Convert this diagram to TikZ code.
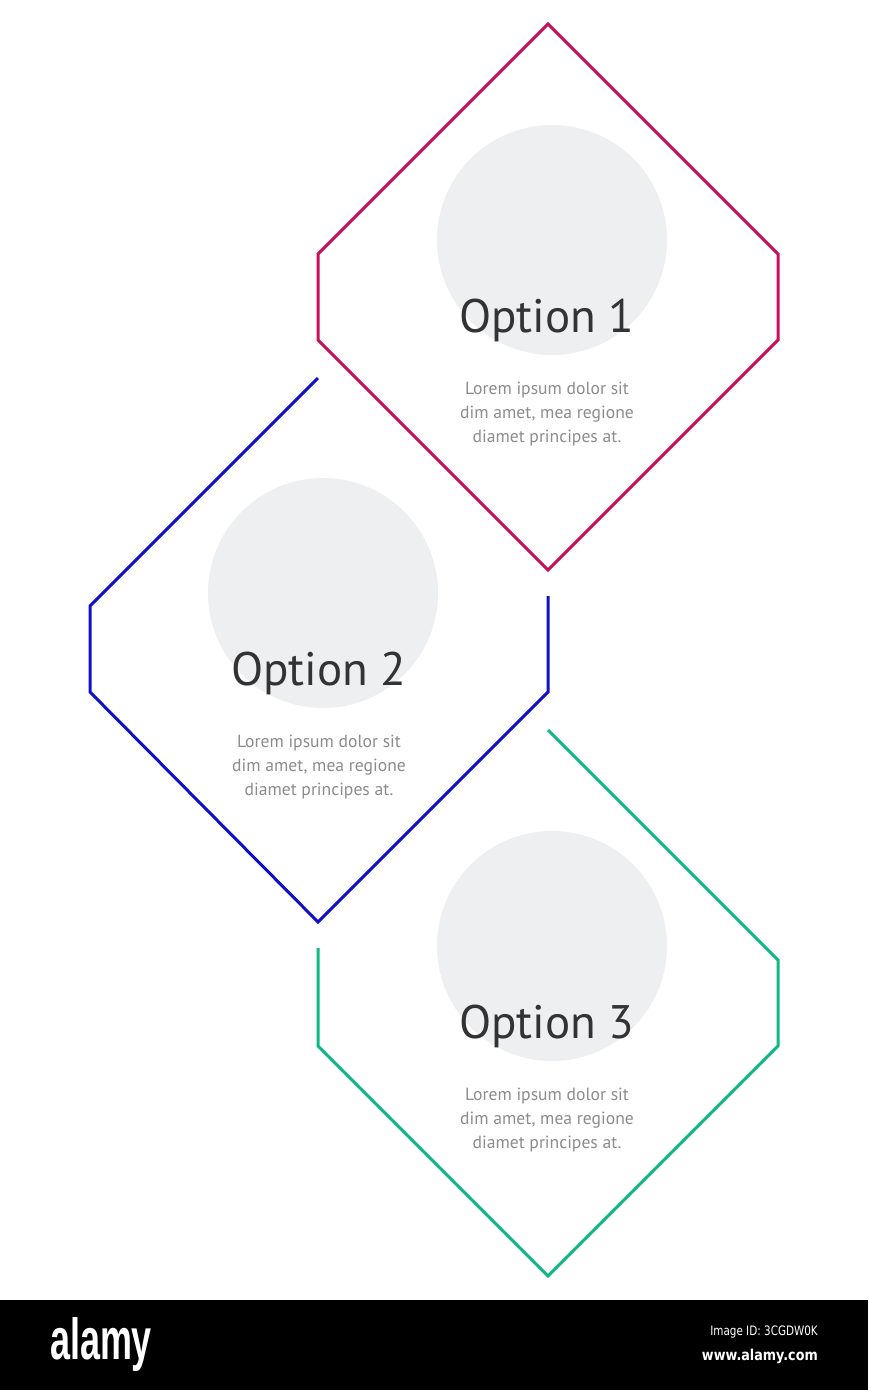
\documentclass[tikz,border=0pt]{standalone}
\usepackage{fontspec}
\setmainfont{PT Sans}
\newfontfamily\wmfont{Liberation Sans}
\newfontfamily\idfont{DejaVu Sans}
\definecolor{magentaL}{HTML}{C8105A}
\definecolor{blueL}{HTML}{1010C8}
\definecolor{greenL}{HTML}{10B888}
\definecolor{circG}{HTML}{EDEFF0}
\definecolor{titleC}{HTML}{333333}
\definecolor{bodyC}{HTML}{8C8C8C}
\tikzset{
  hexline/.style={line width=3pt, line join=miter},
  disc/.style={circle, fill=circG, minimum size=230pt, inner sep=0pt},
  title/.style={text=titleC, font=\fontsize{47}{50}\selectfont, inner sep=0pt},
  body/.style={text=bodyC, font=\fontsize{17.6}{24}\selectfont, align=center, inner sep=0pt},
}
\begin{document}
\begin{tikzpicture}[x=1pt,y=-1pt]
\useasboundingbox (0,0) rectangle (868,1390);
\fill[white] (0,0) rectangle (868,1390);
% circles
\node[disc] (c1) at (552,240) {};
\node[disc] (c2) at (323,593) {};
\node[disc] (c3) at (552,946) {};
% shape 1 (closed)
\draw[hexline, magentaL] (548,24) -- (778,254) -- (778,340) -- (548,570) -- (318,340) -- (318,254) -- cycle;
% shape 2 (open)
\draw[hexline, blueL] (318,378) -- (90,606) -- (90,692) -- (318,922) -- (548,692) -- (548,596);
% shape 3 (open)
\draw[hexline, greenL] (548,730) -- (778,960) -- (778,1046) -- (548,1276) -- (318,1046) -- (318,948);
% texts
\node[title] (t1) at (547,320) {Option 1};
\node[title] (t2) at (319,673) {Option 2};
\node[title] (t3) at (547,1026) {Option 3};
\node[body] (b1) at (547,414) {Lorem ipsum dolor sit\\dim amet, mea regione\\diamet principes at.};
\node[body] (b2) at (319,767) {Lorem ipsum dolor sit\\dim amet, mea regione\\diamet principes at.};
\node[body] (b3) at (547,1120) {Lorem ipsum dolor sit\\dim amet, mea regione\\diamet principes at.};
% watermark bar
\fill[black] (0,1300) rectangle (868,1390);
\node[text=white, inner sep=0pt] (logo) at (101,1344) {\scalebox{0.62}[1]{\wmfont\bfseries\fontsize{58}{60}\selectfont alamy}};
\node[text=white, inner sep=0pt, anchor=east] (imgid) at (818,1332) {\scalebox{0.8}[1]{\idfont\fontsize{13}{15}\selectfont Image ID: 3CGDW0K}};
\node[text=white, inner sep=0pt, anchor=east] (www) at (818,1356) {\scalebox{0.85}[1]{\idfont\bfseries\fontsize{15}{17}\selectfont www.alamy.com}};
\end{tikzpicture}
\end{document}
